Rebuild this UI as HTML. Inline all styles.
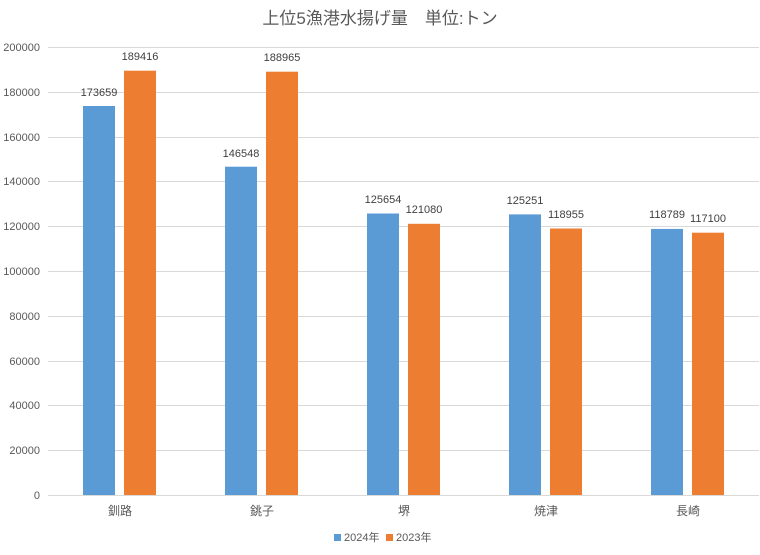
<!DOCTYPE html>
<html><head><meta charset="utf-8"><style>body{margin:0;background:#fff}</style></head><body>
<svg width="760" height="550" xmlns="http://www.w3.org/2000/svg" font-family="Liberation Sans, Noto Sans CJK JP, sans-serif">
<rect width="760" height="550" fill="#fff"/>
<text x="380" y="24" font-size="17" fill="#595959" text-anchor="middle">上位5漁港水揚げ量　単位:トン</text>
<g stroke="#d9d9d9" stroke-width="1">
<line x1="48" x2="759" y1="47.5" y2="47.5"/><line x1="48" x2="759" y1="92.5" y2="92.5"/>
<line x1="48" x2="759" y1="137.5" y2="137.5"/><line x1="48" x2="759" y1="181.5" y2="181.5"/>
<line x1="48" x2="759" y1="226.5" y2="226.5"/><line x1="48" x2="759" y1="271.5" y2="271.5"/>
<line x1="48" x2="759" y1="316.5" y2="316.5"/><line x1="48" x2="759" y1="361.5" y2="361.5"/>
<line x1="48" x2="759" y1="405.5" y2="405.5"/><line x1="48" x2="759" y1="450.5" y2="450.5"/>
<line x1="48" x2="759" y1="495.5" y2="495.5"/>
</g>
<g font-size="11" fill="#595959" text-anchor="end">
<text x="40" y="51">200000</text><text x="40" y="96">180000</text><text x="40" y="141">160000</text>
<text x="40" y="185">140000</text><text x="40" y="230">120000</text><text x="40" y="275">100000</text>
<text x="40" y="320">80000</text><text x="40" y="365">60000</text><text x="40" y="409">40000</text>
<text x="40" y="454">20000</text><text x="40" y="499">0</text>
</g>
<g fill="#5b9bd5">
<rect x="83" y="106" width="32" height="389"/><rect x="225" y="166.7" width="32" height="328.3"/>
<rect x="367" y="213.5" width="32" height="281.5"/><rect x="509" y="214.4" width="32" height="280.6"/>
<rect x="651" y="228.9" width="32" height="266.1"/>
</g>
<g fill="#ed7d31">
<rect x="124" y="70.7" width="32" height="424.3"/><rect x="266" y="71.7" width="32" height="423.3"/>
<rect x="408" y="223.8" width="32" height="271.2"/><rect x="550" y="228.5" width="32" height="266.5"/>
<rect x="692" y="232.7" width="32" height="262.3"/>
</g>
<g font-size="11" fill="#404040" text-anchor="middle">
<text x="99" y="96">173659</text><text x="140" y="60">189416</text>
<text x="241" y="157">146548</text><text x="282" y="61">188965</text>
<text x="383" y="203">125654</text><text x="424" y="213">121080</text>
<text x="525" y="204">125251</text><text x="566" y="218">118955</text>
<text x="667" y="218">118789</text><text x="708" y="222">117100</text>
</g>
<g font-size="12" fill="#595959" text-anchor="middle">
<text x="120" y="515">釧路</text><text x="262" y="515">銚子</text><text x="404" y="515">堺</text>
<text x="546" y="515">焼津</text><text x="688" y="515">長崎</text>
</g>
<rect x="334" y="534" width="7" height="7" fill="#5b9bd5"/>
<text x="344" y="541" font-size="11" fill="#595959">2024年</text>
<rect x="386" y="534" width="7" height="7" fill="#ed7d31"/>
<text x="396" y="541" font-size="11" fill="#595959">2023年</text>
</svg>
</body></html>
